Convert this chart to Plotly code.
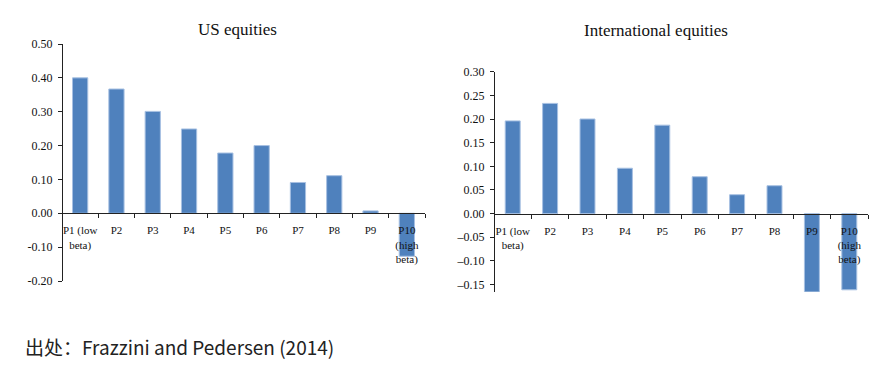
import plotly.graph_objects as go

categories = ["P1 (low<br>beta)", "P2", "P3", "P4", "P5", "P6", "P7", "P8", "P9", "P10<br>(high<br>beta)"]
us_values = [0.400, 0.367, 0.301, 0.249, 0.178, 0.200, 0.091, 0.111, 0.007, -0.127]
intl_values = [0.196, 0.233, 0.200, 0.096, 0.187, 0.078, 0.040, 0.059, -0.166, -0.161]

us_ticks = [0.5, 0.4, 0.3, 0.2, 0.1, 0.0, -0.1, -0.2]
us_ticktext = ["0.50", "0.40", "0.30", "0.20", "0.10", "0.00", "-0.10", "-0.20"]
intl_ticks = [0.30, 0.25, 0.20, 0.15, 0.10, 0.05, 0.0, -0.05, -0.10, -0.15]
intl_ticktext = ["0.30", "0.25", "0.20", "0.15", "0.10", "0.05", "0.00", "–0.05", "–0.10", "–0.15"]

BAR = "#4f81bd"
EDGE = "#a7c0e2"
SERIF = "Liberation Serif, Times New Roman, serif"

fig = go.Figure()
fig.add_trace(go.Bar(x=categories, y=us_values, xaxis="x", yaxis="y",
                     marker=dict(color=BAR, line=dict(color=EDGE, width=1)), width=0.42))
fig.add_trace(go.Bar(x=categories, y=intl_values, xaxis="x2", yaxis="y2",
                     marker=dict(color=BAR, line=dict(color=EDGE, width=1)), width=0.4))

W, H = 885, 371
axis_common = dict(showgrid=False, zeroline=False, showline=True, linecolor="#222", linewidth=1,
                   ticks="outside", ticklen=4, tickcolor="#222", automargin=False)
xfont = dict(family=SERIF, size=11, color="#111")
yfont = dict(family=SERIF, size=12, color="#111")

# US panel
us_x = [62 / W, 425 / W]
us_y = [1 - 281 / H, 1 - 44 / H]
us_range = [-0.2, 0.5]
us_zero = us_y[0] + (0 - us_range[0]) / (us_range[1] - us_range[0]) * (us_y[1] - us_y[0])

# International panel
in_x = [494 / W, 868 / W]
in_y = [1 - 291.7 / H, 1 - 71.7 / H]
in_range = [-0.165, 0.30]
in_zero = in_y[0] + (0 - in_range[0]) / (in_range[1] - in_range[0]) * (in_y[1] - in_y[0])

fig.update_layout(
    width=W, height=H, margin=dict(l=0, r=0, t=0, b=0, pad=0, autoexpand=False),
    paper_bgcolor="white", plot_bgcolor="white", showlegend=False,
    xaxis=dict(domain=us_x, anchor="free", position=us_zero, type="category",
               tickson="boundaries", tickangle=0, tickfont=xfont, ticklabelstandoff=7, **axis_common),
    yaxis=dict(domain=us_y, anchor="free", position=us_x[0], range=us_range,
               tickvals=us_ticks, ticktext=us_ticktext, tickfont=yfont, ticklabelstandoff=3, **axis_common),
    xaxis2=dict(domain=in_x, anchor="free", position=in_zero, type="category",
                tickson="boundaries", tickangle=0, tickfont=xfont, ticklabelstandoff=7, **axis_common),
    yaxis2=dict(domain=in_y, anchor="free", position=in_x[0], range=in_range,
                tickvals=intl_ticks, ticktext=intl_ticktext, tickfont=yfont, ticklabelstandoff=3, **axis_common),
    annotations=[
        dict(text="US equities", x=237 / W, y=1 - 30 / H, xref="paper", yref="paper",
             showarrow=False, xanchor="center", yanchor="middle",
             font=dict(family=SERIF, size=17, color="#111")),
        dict(text="International equities", x=656 / W, y=1 - 30.5 / H, xref="paper", yref="paper",
             showarrow=False, xanchor="center", yanchor="middle",
             font=dict(family=SERIF, size=17, color="#111")),
        dict(text="出处：Frazzini and Pedersen (2014)", x=23 / W, y=1 - 346 / H,
             xref="paper", yref="paper", showarrow=False, xanchor="left", yanchor="middle",
             font=dict(family="Noto Sans CJK SC, sans-serif", size=19, color="#222")),
    ],
)

fig.write_html("out.html", config={"displayModeBar": False},
               post_script="document.body.style.margin='0';")
